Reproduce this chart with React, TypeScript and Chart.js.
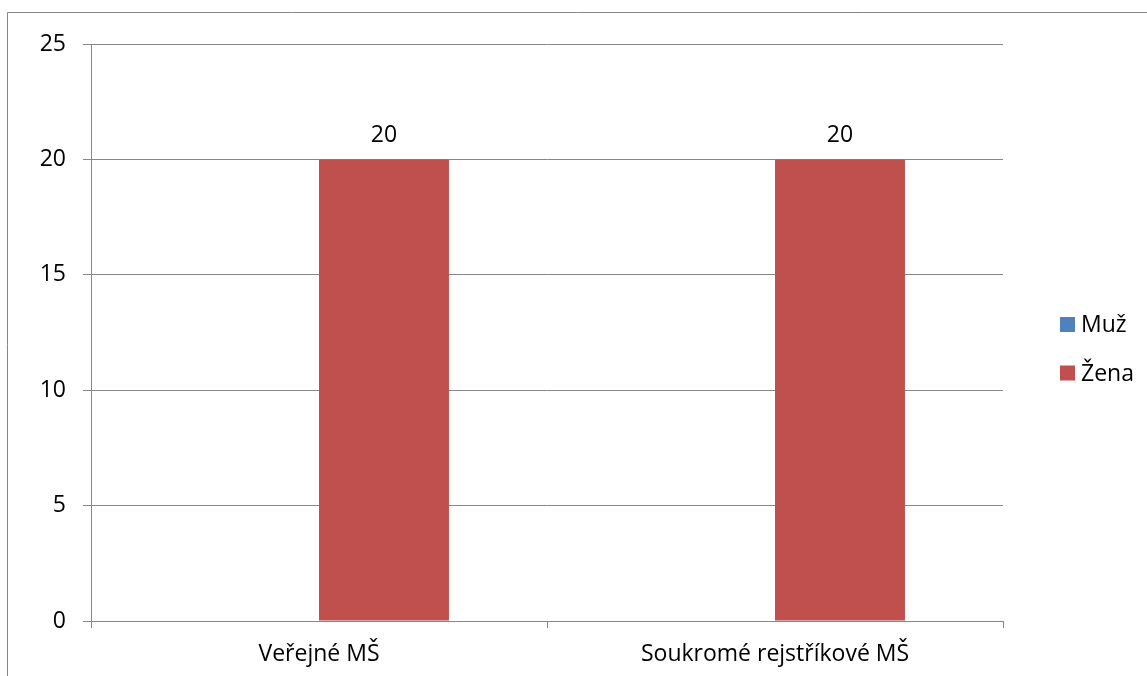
import React, { useEffect, useRef } from "react";
import { Chart, registerables } from "chart.js";

Chart.register(...registerables);

const categories = ["Veřejné MŠ", "Soukromé rejstříkové MŠ"];
const seriesNames = ["Muž", "Žena"];
const muzValues = [0, 0];
const zenaValues = [20, 20];
const yTicks = [0, 5, 10, 15, 20, 25];

const FONT = "'Open Sans', sans-serif";
const GRID = "#868686";
const FS = 23;

const frameAndExtras = {
  id: "frameAndExtras",
  afterDraw(chart: any) {
    const ctx = chart.ctx;
    ctx.save();
    ctx.strokeStyle = GRID;
    ctx.lineWidth = 1;
    ctx.beginPath();
    ctx.moveTo(7.5, chart.height);
    ctx.lineTo(7.5, 12.5);
    ctx.lineTo(chart.width, 12.5);
    ctx.stroke();

    ctx.fillStyle = "#000";
    ctx.font = `${FS}px ${FONT}`;
    ctx.textAlign = "center";
    ctx.textBaseline = "bottom";
    chart.data.datasets.forEach((ds: any, i: number) => {
      const meta = chart.getDatasetMeta(i);
      meta.data.forEach((el: any, j: number) => {
        const v = ds.data[j];
        if (v > 0) ctx.fillText(String(v), el.x, el.y - 12);
      });
    });

    const lx = 1060;
    const ly0 = 324.5;
    const gap = 48.5;
    ctx.textAlign = "left";
    ctx.textBaseline = "middle";
    chart.data.datasets.forEach((ds: any, i: number) => {
      const cy = ly0 + i * gap;
      ctx.fillStyle = ds.backgroundColor;
      ctx.fillRect(lx, cy - 7.5, 15, 15);
      ctx.fillStyle = "#000";
      ctx.fillText(ds.label, lx + 21, cy + 1);
    });
    ctx.restore();
  },
};

export default function App() {
  const ref = useRef<HTMLCanvasElement>(null);
  useEffect(() => {
    if (!ref.current) return;
    const chart = new Chart(ref.current, {
      type: "bar",
      data: {
        labels: categories,
        datasets: [
          { label: seriesNames[0], data: muzValues, backgroundColor: "#4F81BD" },
          { label: seriesNames[1], data: zenaValues, backgroundColor: "#C0504D" },
        ],
      },
      options: {
        animation: false,
        responsive: false,
        devicePixelRatio: 1,
        layout: { padding: { top: 44, right: 144, left: 0, bottom: 0 } },
        datasets: { bar: { categoryPercentage: 0.57, barPercentage: 1 } },
        plugins: { legend: { display: false }, tooltip: { enabled: false } },
        scales: {
          x: {
            grid: {
              offset: true,
              drawOnChartArea: false,
              drawTicks: true,
              tickLength: 7,
              color: GRID,
            },
            border: { color: GRID },
            ticks: { color: "#000", font: { family: FONT, size: FS }, padding: 13 },
            afterFit(scale: any) {
              scale.height = 55;
            },
          },
          y: {
            min: 0,
            max: 25,
            afterBuildTicks(scale: any) {
              scale.ticks = yTicks.map((v) => ({ value: v }));
            },
            grid: { color: GRID, tickLength: 8 },
            border: { color: GRID },
            ticks: { color: "#000", font: { family: FONT, size: FS }, padding: 17 },
            afterFit(scale: any) {
              scale.width = 91;
            },
          },
        },
      },
      plugins: [frameAndExtras],
    });
    return () => chart.destroy();
  }, []);
  return (
    <div style={{ position: "fixed", left: 0, top: 0, width: 1147, height: 676, background: "#fff" }}>
      <canvas ref={ref} width={1147} height={676} style={{ display: "block" }} />
    </div>
  );
}
